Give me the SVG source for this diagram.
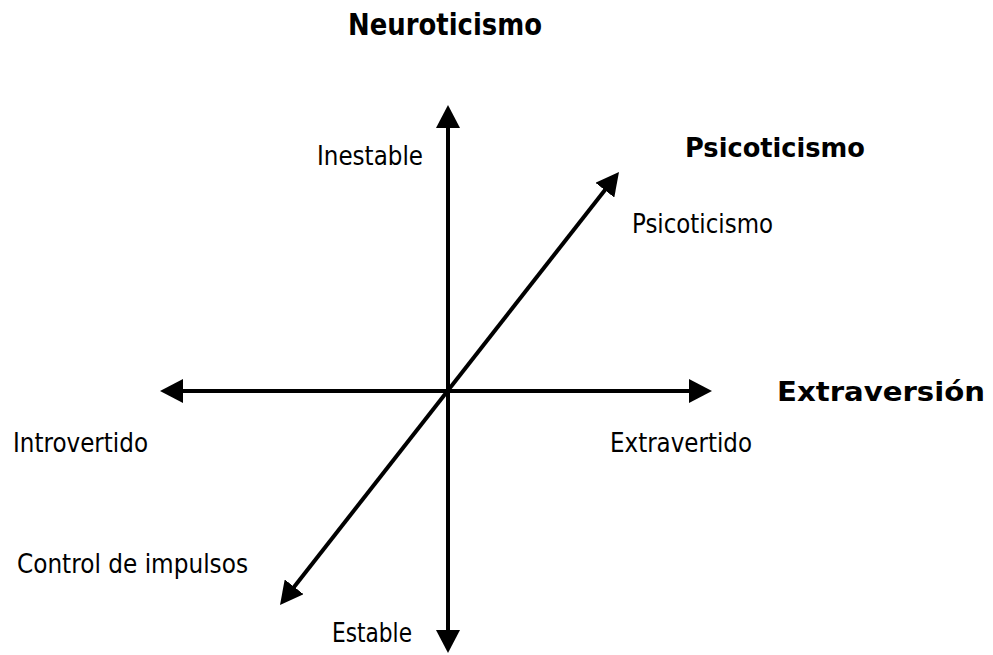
<svg xmlns="http://www.w3.org/2000/svg" width="993" height="655" viewBox="0 0 993 655">
<style>
.t{font-family:"DejaVu Sans","Liberation Sans",sans-serif;font-size:26px;fill:#000}
.b{font-family:"DejaVu Sans","Liberation Sans",sans-serif;font-size:27px;font-weight:bold;fill:#000}
.ax{stroke:#000;stroke-width:4;fill:none;marker-start:url(#ah);marker-end:url(#ah)}
</style>
<defs>
<marker id="ah" viewBox="0 0 23 24" refX="5" refY="12" markerWidth="23" markerHeight="24" markerUnits="userSpaceOnUse" orient="auto-start-reverse">
<path d="M0,0 L23,12 L0,24 Z" fill="#000"/>
</marker>
</defs>
<rect width="993" height="655" fill="#fff"/>
<g id="connectors">
<line class="ax" x1="448" y1="635" x2="448" y2="123"/>
<line class="ax" x1="178" y1="391" x2="694" y2="391"/>
<line class="ax" x1="291.1" y1="590.8" x2="607.9" y2="186.2"/>
</g>
<g id="neuroticismo"><text class="b" x="348" y="35" style="font-size:30px" textLength="194" lengthAdjust="spacingAndGlyphs">Neuroticismo</text></g>
<g id="psicoticismo-title"><text class="b" x="685" y="157" textLength="180" lengthAdjust="spacingAndGlyphs">Psicoticismo</text></g>
<g id="extraversion"><text class="b" x="777" y="401" textLength="208" lengthAdjust="spacingAndGlyphs">Extraversión</text></g>
<g id="inestable"><text class="t" x="317" y="165" textLength="106" lengthAdjust="spacingAndGlyphs">Inestable</text></g>
<g id="psicoticismo"><text class="t" x="632" y="233" textLength="141" lengthAdjust="spacingAndGlyphs">Psicoticismo</text></g>
<g id="introvertido"><text class="t" x="13" y="452" textLength="135" lengthAdjust="spacingAndGlyphs">Introvertido</text></g>
<g id="extravertido"><text class="t" x="610" y="452" textLength="142" lengthAdjust="spacingAndGlyphs">Extravertido</text></g>
<g id="control"><text class="t" x="17" y="573" textLength="231" lengthAdjust="spacingAndGlyphs">Control de impulsos</text></g>
<g id="estable"><text class="t" x="332" y="642" textLength="80" lengthAdjust="spacingAndGlyphs">Estable</text></g>
</svg>
